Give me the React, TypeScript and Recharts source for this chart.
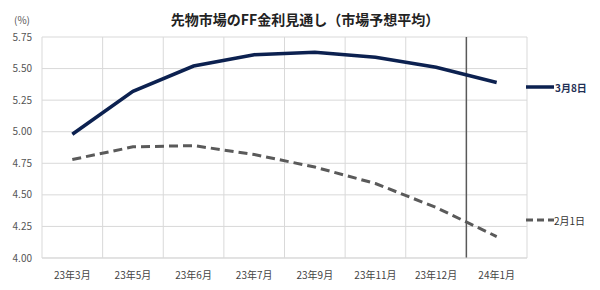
import {
  LineChart,
  Line,
  XAxis,
  YAxis,
  CartesianGrid,
  ReferenceLine,
} from 'recharts';

const months = ['23年3月', '23年5月', '23年6月', '23年7月', '23年9月', '23年11月', '23年12月', '24年1月'];
const mar8 = [4.98, 5.32, 5.52, 5.61, 5.63, 5.59, 5.51, 5.39];
const feb1 = [4.78, 4.88, 4.89, 4.82, 4.72, 4.59, 4.4, 4.17];
const yTicks = [4.0, 4.25, 4.5, 4.75, 5.0, 5.25, 5.5, 5.75];

const data = months.map((m, i) => ({ month: m, mar8: mar8[i], feb1: feb1[i] }));

const FONT = '"Noto Sans CJK JP", "Noto Sans", sans-serif';
const NAVY = '#0c2150';
const GRAY = '#5a5a5a';

export default function App() {
  return (
    <div style={{ position: 'relative', width: 600, height: 290, margin: -8, background: '#fff', fontFamily: FONT }}>
      <div
        style={{
          position: 'absolute',
          top: 9,
          left: 0,
          width: 610,
          textAlign: 'center',
          fontSize: 14,
          fontWeight: 700,
          color: '#222',
        }}
      >
        先物市場のFF金利見通し（市場予想平均）
      </div>
      <div style={{ position: 'absolute', top: 12, left: 14, fontSize: 10, color: '#555' }}>(%)</div>
      <LineChart
        width={600}
        height={290}
        data={data}
        margin={{ top: 37, right: 73, bottom: 2, left: 0 }}
      >
        <CartesianGrid
          stroke="#d9d9d9"
          verticalCoordinatesGenerator={({ offset }: any) =>
            months.map((_, i) => offset.left + (i * offset.width) / months.length).concat(offset.left + offset.width)
          }
        />
        <XAxis
          dataKey="month"
          scale="band"
          tick={{ fontSize: 10, fill: '#444', fontFamily: FONT }}
          tickLine={false}
          axisLine={{ stroke: '#d9d9d9' }}
          tickMargin={8}
          interval={0}
        />
        <YAxis
          width={42}
          domain={[4, 5.75]}
          ticks={yTicks}
          tickFormatter={(v: number) => v.toFixed(2)}
          tick={{ fontSize: 10, fill: '#555', fontFamily: FONT }}
          tickLine={false}
          axisLine={false}
          tickMargin={4}
        />
        <ReferenceLine x="24年1月" position="start" stroke="#595959" strokeWidth={1.5} />
        <Line
          type="linear"
          dataKey="mar8"
          stroke={NAVY}
          strokeWidth={3.5}
          dot={false}
          isAnimationActive={false}
        />
        <Line
          type="linear"
          dataKey="feb1"
          stroke={GRAY}
          strokeWidth={3}
          strokeDasharray="9 5"
          dot={false}
          isAnimationActive={false}
        />
      </LineChart>
      <svg style={{ position: 'absolute', left: 524, top: 78, overflow: 'visible' }} width={30} height={20}>
        <line x1={2} y1={9} x2={30} y2={9} stroke={NAVY} strokeWidth={3.5} />
      </svg>
      <div style={{ position: 'absolute', left: 555, top: 80, fontSize: 10, fontWeight: 700, color: '#1f2f55' }}>3月8日</div>
      <svg style={{ position: 'absolute', left: 524, top: 211, overflow: 'visible' }} width={30} height={20}>
        <line x1={2} y1={9} x2={30} y2={9} stroke={GRAY} strokeWidth={3} strokeDasharray="7 4" />
      </svg>
      <div style={{ position: 'absolute', left: 554, top: 213, fontSize: 10, color: '#333' }}>2月1日</div>
    </div>
  );
}
